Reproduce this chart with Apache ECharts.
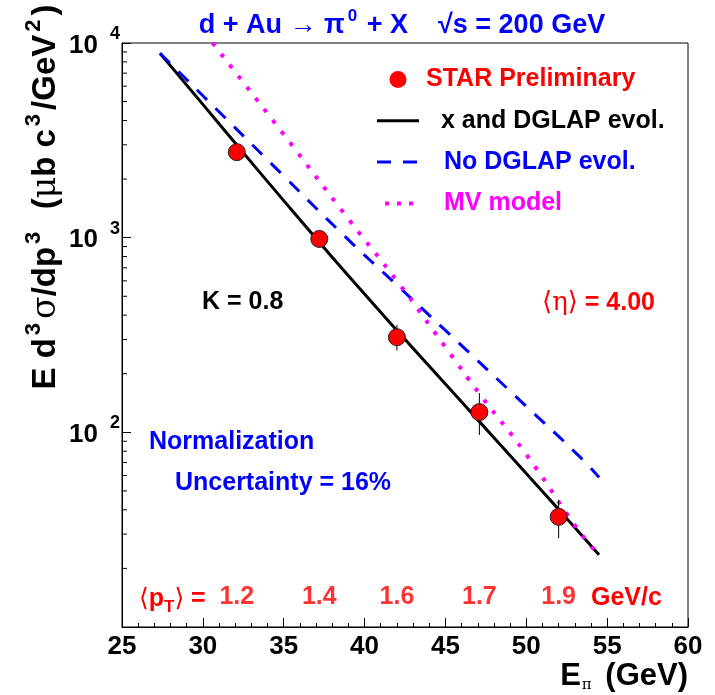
<!DOCTYPE html>
<html>
<head>
<meta charset="utf-8">
<script src="https://cdn.jsdelivr.net/npm/echarts@6/dist/echarts.min.js"></script>
<style>
  html, body { margin: 0; padding: 0; background: #fff; }
  #chart { width: 715px; height: 695px; }
</style>
</head>
<body>
<div id="chart"></div>
<script>
const FONT = 'Liberation Sans, Arial, Helvetica, sans-serif';
const SERIF = 'DejaVu Serif, Liberation Serif, serif';
const RED = '#ff0000';
const BLUE = '#0000ff';
const MAGENTA = '#ff00ff';

// STAR preliminary points
const energies = [32.1, 37.2, 42.0, 47.1, 52.0];
const crossSection = [2750, 985, 308, 127, 36.8];
const errLow = [2620, 930, 263, 97, 28.6];
const errHigh = [2880, 1045, 356, 159, 45];
const meanPt = ['1.2', '1.4', '1.6', '1.7', '1.9'];

// model curves
const dglapE = [27.35, 30, 32.1, 35, 38, 40, 42, 45, 47.1, 50, 52, 54.5];
const dglapY = [8850, 4840, 2990, 1550, 794, 514, 334, 177, 113.5, 61.4, 40.2, 23.5];
const noDglapE = [27.35, 30, 35, 38.8, 42, 45, 50, 53.3, 54.5];
const noDglapY = [8850, 5360, 2075, 1012, 571, 334, 136, 75, 58.7];
const mvE = [30.6, 35, 39, 42.15, 45, 47.15, 50, 53.2, 54.3];
const mvY = [10000, 3390, 1247, 578, 274, 156, 77, 31.6, 24.4];

// log axis minor ticks (2..9 per decade)
const yMinorTicks = [20, 30, 40, 50, 60, 70, 80, 90,
  200, 300, 400, 500, 600, 700, 800, 900,
  2000, 3000, 4000, 5000, 6000, 7000, 8000, 9000];
const PT_ROW_Y = 14.2;

const zip = (xs, ys) => xs.map((x, i) => [x, ys[i]]);

const DASH = [14, 12];
const DOTS = [4, 10];

const chart = echarts.init(document.getElementById('chart'), null, { renderer: 'canvas' });

const option = {
  backgroundColor: '#ffffff',
  animation: false,
  grid: {
    left: 122, right: 27, top: 43, bottom: 68,
    show: true, borderColor: '#000', borderWidth: 1
  },
  legend: {
    left: 370, top: 62, orient: 'vertical',
    itemWidth: 42, itemHeight: 17, itemGap: 16.3,
    selectedMode: false,
    textStyle: { fontFamily: FONT, fontWeight: 'bold', fontSize: 25 },
    data: [
      {
        name: 'STAR Preliminary', icon: 'circle',
        itemStyle: { color: RED, borderWidth: 0 },
        textStyle: { color: RED, padding: [0, 0, 0, 2] }
      },
      {
        name: 'x and DGLAP evol.',
        itemStyle: { opacity: 0 },
        lineStyle: { color: '#000', width: 3, type: 'solid' },
        textStyle: { color: '#000', padding: [0, 0, 0, 17] }
      },
      {
        name: 'No DGLAP evol.',
        itemStyle: { opacity: 0 },
        lineStyle: { color: BLUE, width: 3, type: DASH },
        textStyle: { color: BLUE, padding: [0, 0, 0, 20] }
      },
      {
        name: 'MV model',
        itemStyle: { opacity: 0 },
        lineStyle: { color: MAGENTA, width: 4, type: [4, 8], dashOffset: -8 },
        textStyle: { color: MAGENTA, padding: [0, 0, 0, 20] }
      }
    ]
  },
  xAxis: {
    type: 'value', min: 25, max: 60, interval: 5,
    axisLine: { onZero: false, lineStyle: { color: '#000', width: 1 } },
    axisTick: { inside: true, length: 9, lineStyle: { color: '#000' } },
    minorTick: { show: true, splitNumber: 5, length: 4, lineStyle: { color: '#000' } },
    splitLine: { show: false },
    axisLabel: {
      color: '#000', fontFamily: FONT, fontWeight: 'bold', fontSize: 26, margin: 7,
      showMinLabel: true, showMaxLabel: true
    }
  },
  yAxis: {
    type: 'log', logBase: 10, min: 10, max: 10000,
    axisLine: { lineStyle: { color: '#000', width: 1 } },
    axisTick: { inside: true, length: 9, lineStyle: { color: '#000' } },
    splitLine: { show: false },
    axisLabel: {
      margin: 2,
      formatter: v => v <= 10 ? '' : '{b|10}{s|' + Math.round(Math.log10(v)) + '}',
      rich: {
        b: { color: '#000', fontFamily: FONT, fontWeight: 'bold', fontSize: 26, lineHeight: 36, padding: [5, 0, 0, 0] },
        s: { color: '#000', fontFamily: FONT, fontWeight: 'bold', fontSize: 18, verticalAlign: 'top', padding: [0, 0, 0, 12] }
      }
    }
  },
  series: [
    {
      name: 'y minor ticks', type: 'custom', silent: true, clip: false,
      data: yMinorTicks.map(v => [25, v]),
      renderItem: (params, api) => {
        const p = api.coord([api.value(0), api.value(1)]);
        return {
          type: 'line',
          shape: { x1: p[0], y1: p[1], x2: p[0] + 5, y2: p[1] },
          style: { stroke: '#000', lineWidth: 1 }
        };
      }
    },
    {
      name: 'x and DGLAP evol.', type: 'line', data: zip(dglapE, dglapY),
      symbol: 'none', smooth: true, lineStyle: { color: '#000', width: 3 },
      itemStyle: { color: '#000' }, z: 3
    },
    {
      name: 'No DGLAP evol.', type: 'line', data: zip(noDglapE, noDglapY),
      symbol: 'none', smooth: true, lineStyle: { color: BLUE, width: 3, type: DASH },
      itemStyle: { color: BLUE }, z: 3
    },
    {
      name: 'MV model', type: 'line', data: zip(mvE, mvY),
      symbol: 'none', smooth: true, lineStyle: { color: MAGENTA, width: 4, type: DOTS },
      itemStyle: { color: MAGENTA }, z: 3
    },
    {
      name: 'errors', type: 'custom', silent: true, z: 4,
      data: energies.map((e, i) => [e, errLow[i], errHigh[i]]),
      renderItem: (params, api) => {
        const lo = api.coord([api.value(0), api.value(1)]);
        const hi = api.coord([api.value(0), api.value(2)]);
        return {
          type: 'line',
          shape: { x1: lo[0], y1: lo[1], x2: hi[0], y2: hi[1] },
          style: { stroke: '#000', lineWidth: 1 }
        };
      }
    },
    {
      name: 'STAR Preliminary', type: 'scatter', data: zip(energies, crossSection),
      symbol: 'circle', symbolSize: 17, z: 5,
      itemStyle: { color: RED, borderColor: '#222', borderWidth: 1, opacity: 1 }
    },
    {
      name: 'pT row', type: 'scatter', silent: true, symbolSize: 0,
      data: energies.map(e => [e, PT_ROW_Y]),
      label: {
        show: true, position: 'inside',
        formatter: p => meanPt[p.dataIndex],
        color: RED, fontFamily: FONT, fontWeight: 'bold', fontSize: 25
      }
    }
  ],
  graphic: [
    {
      type: 'text', x: 402, y: 26,
      style: {
        text: '{t|d + Au }{a|\u2192}{t| \u03c0}{u|0}{t| + X    \u221as = 200 GeV}',
        align: 'center', verticalAlign: 'middle',
        rich: {
          t: { fill: BLUE, fontFamily: FONT, fontWeight: 'bold', fontSize: 27, lineHeight: 36 },
          a: { fill: BLUE, fontFamily: FONT, fontSize: 27, lineHeight: 36 },
          u: { fill: BLUE, fontFamily: FONT, fontWeight: 'bold', fontSize: 17, verticalAlign: 'top', padding: [0, 2, 0, 3] }
        }
      }
    },
    {
      type: 'text', x: 46, y: 197, rotation: Math.PI / 2,
      style: {
        text: '{m|E d}{s|3}{g|\u03c3}{m|/dp}{s|3}{m|  (}{g|\u03bc}{m|b c}{s|3}{m|/GeV}{s|2}{m|)}',
        align: 'center', verticalAlign: 'middle',
        rich: {
          m: { fill: '#000', fontFamily: FONT, fontWeight: 'bold', fontSize: 33, lineHeight: 46 },
          g: { fill: '#000', fontFamily: SERIF, fontSize: 33, lineHeight: 46 },
          s: { fill: '#000', fontFamily: FONT, fontWeight: 'bold', fontSize: 22, verticalAlign: 'top', padding: [0, 4, 0, 3] }
        }
      }
    },
    {
      type: 'text', x: 688, y: 676,
      style: {
        text: '{m|E}{p|\u03c0}{m| (GeV)}',
        align: 'right', verticalAlign: 'middle',
        rich: {
          m: { fill: '#000', fontFamily: FONT, fontWeight: 'bold', fontSize: 31, lineHeight: 34 },
          p: { fill: '#000', fontFamily: SERIF, fontSize: 15, verticalAlign: 'bottom', padding: [0, 5, 0, 1] }
        }
      }
    },
    {
      type: 'text', x: 202, y: 302,
      style: { text: 'K = 0.8', fill: '#000', font: 'bold 25px ' + FONT, verticalAlign: 'middle' }
    },
    {
      type: 'text', x: 542, y: 303,
      style: {
        text: '{g|\u27e8\u03b7\u27e9}{m| = 4.00}', verticalAlign: 'middle',
        rich: {
          g: { fill: RED, fontFamily: SERIF, fontSize: 26 },
          m: { fill: RED, fontFamily: FONT, fontWeight: 'bold', fontSize: 25 }
        }
      }
    },
    {
      type: 'text', x: 149, y: 442,
      style: { text: 'Normalization', fill: BLUE, font: 'bold 25px ' + FONT, verticalAlign: 'middle' }
    },
    {
      type: 'text', x: 175, y: 483,
      style: { text: 'Uncertainty = 16%', fill: BLUE, font: 'bold 25px ' + FONT, verticalAlign: 'middle' }
    },
    {
      type: 'text', x: 139, y: 599,
      style: {
        text: '{g|\u27e8}{m|p}{d|T}{g|\u27e9}{m| =}', verticalAlign: 'middle',
        rich: {
          g: { fill: RED, fontFamily: SERIF, fontSize: 25, lineHeight: 34 },
          m: { fill: RED, fontFamily: FONT, fontWeight: 'bold', fontSize: 25, lineHeight: 34 },
          d: { fill: RED, fontFamily: FONT, fontWeight: 'bold', fontSize: 17, verticalAlign: 'bottom' }
        }
      }
    },
    {
      type: 'text', x: 591, y: 598,
      style: { text: 'GeV/c', fill: RED, font: 'bold 25px ' + FONT, verticalAlign: 'middle' }
    }
  ]
};

chart.setOption(option);
</script>
</body>
</html>
